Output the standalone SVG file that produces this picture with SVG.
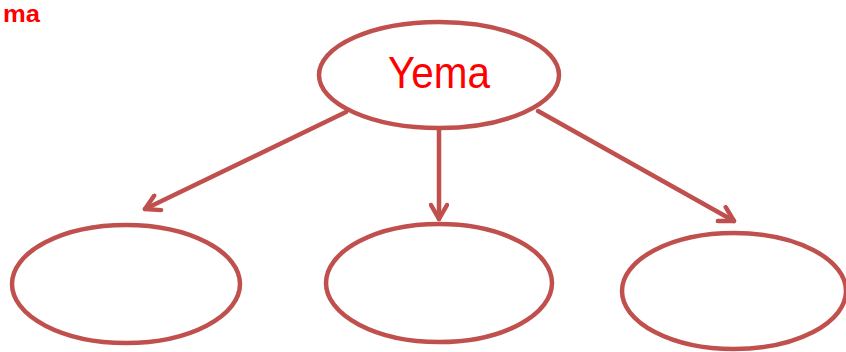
<svg xmlns="http://www.w3.org/2000/svg" width="846" height="352" viewBox="0 0 846 352">
<defs>
<style>
.node{fill:#fff;stroke:#C0504D;stroke-width:4.5}
.edge{stroke:#C0504D;stroke-width:4.5;fill:none;stroke-linecap:round}
.lbl{font-family:"Liberation Sans",Arial,sans-serif;fill:#FF0000}
</style>
<marker id="ah" viewBox="0 0 20 20" refX="17" refY="10" markerWidth="20" markerHeight="20" markerUnits="userSpaceOnUse" orient="auto">
<path d="M3,2 L17,10 L3,18" fill="none" stroke="#C0504D" stroke-width="4.5" stroke-linecap="round" stroke-linejoin="round"/>
</marker>
</defs>
<rect width="846" height="352" fill="#fff"/>
<text class="lbl" x="3" y="21.5" font-size="23" font-weight="bold" textLength="37" lengthAdjust="spacingAndGlyphs">ma</text>
<g id="connectors">
<line class="edge" x1="346" y1="112" x2="145" y2="209" marker-end="url(#ah)"/>
<line class="edge" x1="439" y1="129" x2="439" y2="219" marker-end="url(#ah)"/>
<line class="edge" x1="538" y1="111" x2="734" y2="221" marker-end="url(#ah)"/>
</g>
<g id="node-yema">
<ellipse class="node" cx="439" cy="75" rx="120" ry="53"/>
<text class="lbl" x="439" y="88" font-size="44" text-anchor="middle" textLength="102" lengthAdjust="spacingAndGlyphs">Yema</text>
</g>
<g id="node-left"><ellipse class="node" cx="126" cy="284" rx="114" ry="59"/></g>
<g id="node-middle"><ellipse class="node" cx="439" cy="283" rx="113" ry="59"/></g>
<g id="node-right"><ellipse class="node" cx="734" cy="291" rx="112" ry="58"/></g>
</svg>
